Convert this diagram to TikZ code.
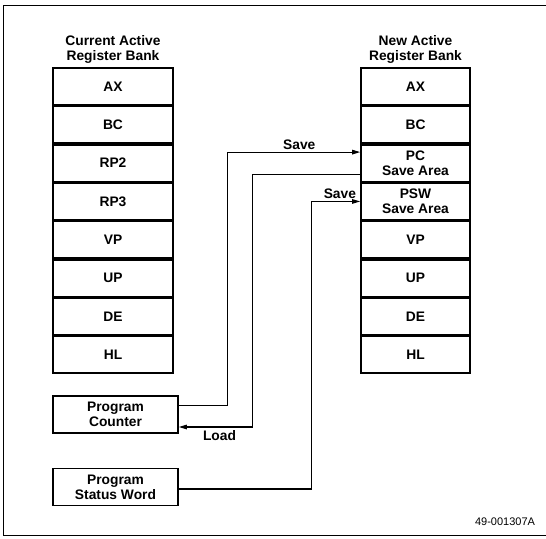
\documentclass[tikz,border=0pt]{standalone}
\usepackage{fontspec}
\setmainfont{Liberation Sans}
\usetikzlibrary{arrows.meta, positioning}

\begin{document}
\begin{tikzpicture}[
    x=1pt, y=-1pt,
    cell/.style={rectangle, draw, line width=1.6pt, minimum width=120pt, minimum height=36.75pt, inner sep=0pt, align=center, font=\bfseries\fontsize{13.8}{15}\selectfont},
    newcell/.style={cell, minimum width=109pt},
    regbox/.style={rectangle, draw, line width=1.6pt, minimum width=125pt, minimum height=37pt, inner sep=0pt, align=center, font=\bfseries\fontsize{13.8}{15}\selectfont},
    title/.style={align=center, font=\bfseries\fontsize{13.8}{15}\selectfont, inner sep=1pt},
    conn/.style={line width=1.1pt, -{Triangle[length=8pt, width=4.5pt]}},
    lbl/.style={font=\bfseries\fontsize{13.8}{15}\selectfont, inner sep=2pt}
]
    \useasboundingbox (0,0) rectangle (546,538);
    % Frame
    \draw[line width=0.8pt] (546,5) -- (3,5) -- (3,535) -- (546,535);

    % Current bank
    \node[cell] (cax) at (113, 86.4) {AX};
    \node[cell, below=0pt of cax] (cbc) {BC};
    \node[cell, below=0pt of cbc] (crp2) {RP2};
    \node[cell, below=0pt of crp2] (crp3) {RP3};
    \node[cell, below=0pt of crp3] (cvp) {VP};
    \node[cell, below=0pt of cvp] (cup) {UP};
    \node[cell, below=0pt of cup] (cde) {DE};
    \node[cell, below=0pt of cde] (chl) {HL};
    \node[title, above=3pt of cax] (ctitle) {Current Active\\Register Bank};

    % New bank
    \node[newcell] (nax) at (415.5, 86.4) {AX};
    \node[newcell, below=0pt of nax] (nbc) {BC};
    \node[newcell, below=0pt of nbc] (pcsave) {PC\\Save Area};
    \node[newcell, below=0pt of pcsave] (pswsave) {PSW\\Save Area};
    \node[newcell, below=0pt of pswsave] (nvp) {VP};
    \node[newcell, below=0pt of nvp] (nup) {UP};
    \node[newcell, below=0pt of nup] (nde) {DE};
    \node[newcell, below=0pt of nde] (nhl) {HL};
    \node[title, above=3pt of nax] (ntitle) {New Active\\Register Bank};

    % Registers
    \node[regbox] (pcnt) at (115.5, 414.5) {Program\\Counter};
    \node[regbox] (psw) at (115.5, 487) {Program\\Status Word};

    % Connectors
    \draw[conn] ([yshift=9pt]pcnt.east) -- ++(49,0) |- node[lbl, above, pos=0.77] {Save} ([yshift=11pt]pcsave.west);
    \draw[conn, {Triangle[length=8pt, width=4.5pt]}-] ([yshift=-12.5pt]pcnt.east) -- node[lbl, below=1pt, pos=0.55] {Load} ++(74,0) |- ([yshift=-11pt]pcsave.west);
    \draw[conn] ([yshift=-2pt]psw.east) -- ++(133,0) |- node[lbl, above, pos=0.79] {Save} (pswsave.west);

    \node[font=\fontsize{11}{12}\selectfont] (fignum) at (505, 522) {49-001307A};
\end{tikzpicture}
\end{document}
